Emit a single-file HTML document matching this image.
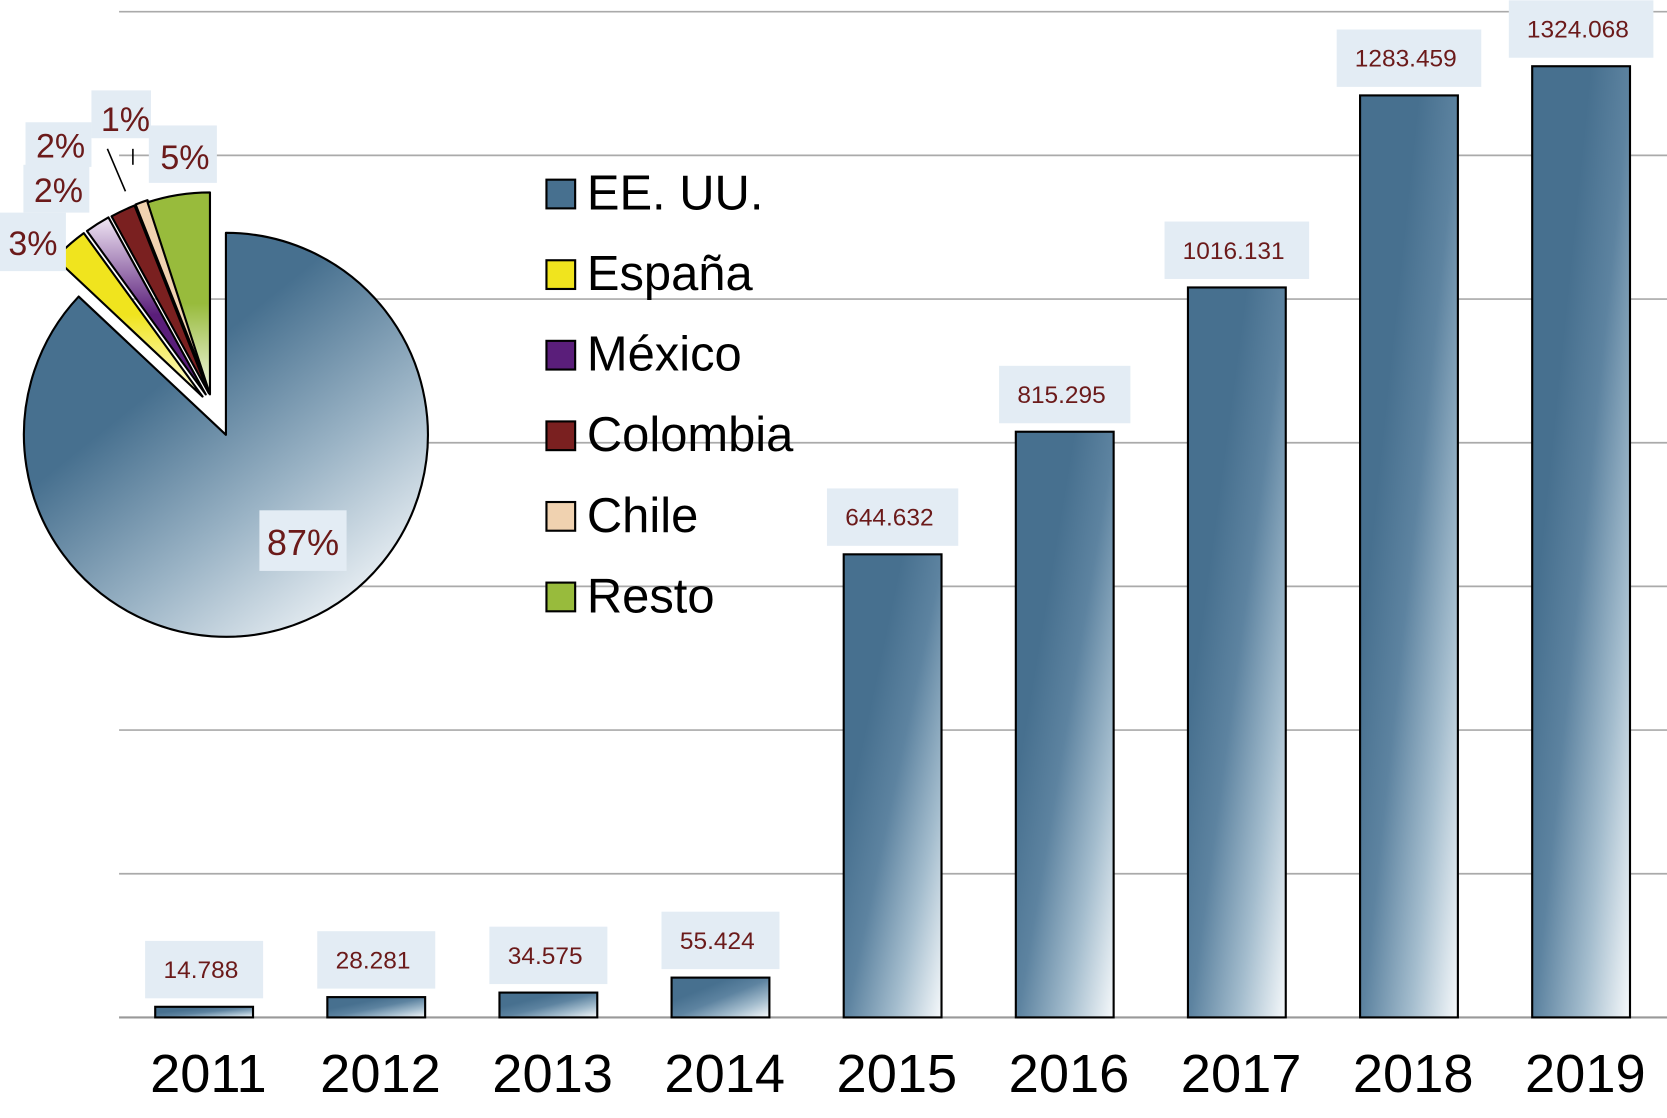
<!DOCTYPE html>
<html><head><meta charset="utf-8"><style>
html,body{margin:0;padding:0;background:#fff;width:1667px;height:1118px;overflow:hidden}
svg{display:block;font-family:"Liberation Sans",Arial,sans-serif}
</style></head><body>
<svg id="chart" width="1667" height="1118" viewBox="0 0 1568 1051.6" preserveAspectRatio="none" xmlns="http://www.w3.org/2000/svg">
<defs>
<linearGradient id="barGrad" x1="0.3" y1="0.3" x2="1" y2="1">
<stop offset="0" stop-color="#47708f"/><stop offset="0.3" stop-color="#5d83a0"/><stop offset="0.65" stop-color="#a3bccd"/><stop offset="1" stop-color="#f6f9fb"/></linearGradient>
<linearGradient id="pieGrad" x1="0.25" y1="0.2" x2="0.85" y2="0.95">
<stop offset="0.2" stop-color="#47708f"/><stop offset="0.6" stop-color="#9ab3c5"/><stop offset="1" stop-color="#f2f6f9"/></linearGradient>
<linearGradient id="g1" x1="0" y1="0" x2="0" y2="1"><stop offset="0.5" stop-color="#f0e41e"/><stop offset="1" stop-color="#fffde0"/></linearGradient>
<linearGradient id="g2" x1="0" y1="1" x2="0" y2="0"><stop offset="0.45" stop-color="#5a1e7a"/><stop offset="1" stop-color="#f0e6f4"/></linearGradient>
<linearGradient id="g5" x1="0" y1="0" x2="0" y2="1"><stop offset="0.55" stop-color="#98bb3c"/><stop offset="1" stop-color="#f4f8e8"/></linearGradient>
</defs>
<g id="grid"></g>
<g id="bars"></g>
<g id="pie"></g>
<g id="legend"></g>
</svg>
<script>
const years=["2011","2012","2013","2014","2015","2016","2017","2018","2019"];
const values=[14.788,28.281,34.575,55.424,644.632,815.295,1016.131,1283.459,1324.068];
const valueLabels=["14.788","28.281","34.575","55.424","644.632","815.295","1016.131","1283.459","1324.068"];
const gridTicks=[0,200,400,600,800,1000,1200,1400];
const pieLabels=["EE. UU.","España","México","Colombia","Chile","Resto"];
const piePct=[87,3,2,2,1,5];
const pieText=["87%","3%","2%","2%","1%","5%"];
const pieColors=["url(#pieGrad)","url(#g1)","url(#g2)","#7a2020","#f0d2b0","url(#g5)"];
const legendColors=["#47708f","#f0e41e","#5a1e7a","#7a2020","#f0d2b0","#98bb3c"];

const NS="http://www.w3.org/2000/svg";
function mk(tag,attrs,parent){const e=document.createElementNS(NS,tag);for(const k in attrs)e.setAttribute(k,attrs[k]);parent.appendChild(e);return e;}
const base=957, top0=11, vmax=1400;
const y=v=>base-(base-top0)*v/vmax;
const x=i=>146+i*161.9;
const bw=92;
const grid=document.getElementById('grid');
gridTicks.forEach(t=>{
  const l=mk('line',{x1:112,x2:1568,y1:y(t),y2:y(t),stroke:t===0?'#999':'#aaa','stroke-width':t===0?2:1.6},grid);
  
  
});
const bars=document.getElementById('bars');
values.forEach((v,i)=>{
  const r=mk('rect',{x:x(i),y:y(v),width:bw,height:base-y(v),fill:'url(#barGrad)',stroke:'#000','stroke-width':2},bars);
  
  
  const cx=x(i)+bw/2;
  const txt=valueLabels[i];
  const w=txt.length*12.5+36;
  const b=mk('rect',{x:cx-w/2,y:y(v)-62,width:w,height:54,fill:'#e3ecf4'},bars);
  
  
  const t=mk('text',{x:cx-3,y:y(v)-27,'text-anchor':'middle','font-size':23,fill:'#6b1a1a'},bars);
  t.textContent=txt;
  
  
  const yl=mk('text',{x:cx+4,y:1027,'text-anchor':'middle','font-size':51,fill:'#000'},bars);
  yl.textContent=years[i];
  
  
});
const pie=document.getElementById('pie');
const pcx=212.5,pcy=409,R=190;
let acc=0;
const offs=[[0,0],[-22,-36],[-19,-38],[-16,-39],[-15,-40],[-15,-38]];
piePct.forEach((p,i)=>{
  const a0=acc/100*2*Math.PI, a1=(acc+p)/100*2*Math.PI; acc+=p;
  const cx=pcx+offs[i][0], cy=pcy+offs[i][1];
  const r=R;
  const p0=[cx+r*Math.sin(a0),cy-r*Math.cos(a0)], p1=[cx+r*Math.sin(a1),cy-r*Math.cos(a1)];
  const large=(a1-a0)>Math.PI?1:0;
  const s=mk('path',{d:`M${cx},${cy} L${p0[0]},${p0[1]} A${r},${r} 0 ${large} 1 ${p1[0]},${p1[1]} Z`,fill:pieColors[i],stroke:'#000','stroke-width':2,'stroke-linejoin':'round'},pie);
  
  
});
const pl=[[244,480,82,57,285,522,34],[0,200,62,55,31,240,32],[22,155,62,45,55,190,32],[24,115,62,42,57,148,32],[86,85,56,45,118,123,32],[140,118,64,54,174,159,32]];
pl.forEach((q,i)=>{
  const b=mk('rect',{x:q[0],y:q[1],width:q[2],height:q[3],fill:'#e3ecf4'},pie);
  
  
  const t=mk('text',{x:q[4],y:q[5],'text-anchor':'middle','font-size':q[6],fill:'#6b1a1a'},pie);
  t.textContent=pieText[i];
  
  
});
const l1=mk('line',{x1:101,y1:140,x2:118,y2:180,stroke:'#000','stroke-width':1.5},pie);


const l2=mk('line',{x1:125,y1:140,x2:125,y2:155,stroke:'#000','stroke-width':1.5},pie);


const lg=document.getElementById('legend');
pieLabels.forEach((n,i)=>{
  const yy=182+i*75.8;
  const s=mk('rect',{x:514,y:yy-13,width:27,height:27,fill:legendColors[i],stroke:'#000','stroke-width':2},lg);
  
  
  const t=mk('text',{x:552,y:yy+15,'font-size':46,fill:'#000'},lg);
  t.textContent=n;
  
  
});
</script>
</body></html>
